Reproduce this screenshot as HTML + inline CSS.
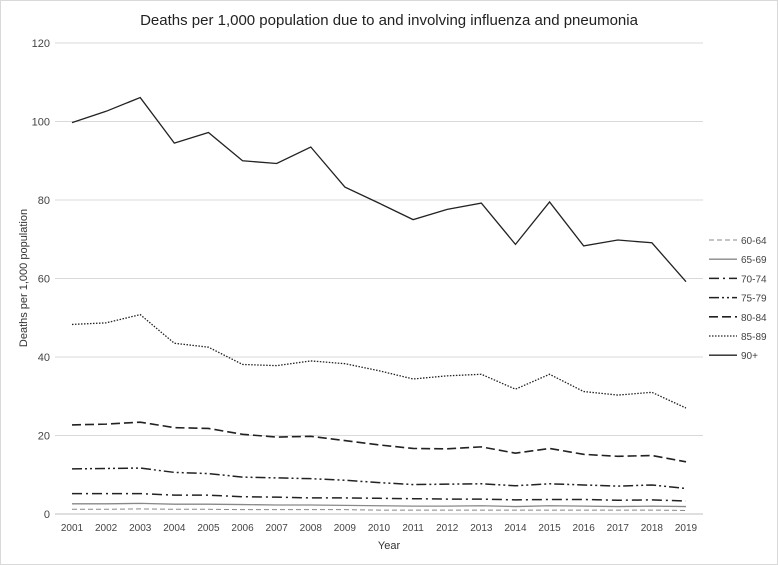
<!DOCTYPE html>
<html><head><meta charset="utf-8"><style>
body{margin:0;background:#fff;font-family:"Liberation Sans",sans-serif}
svg{display:block}
</style></head><body>
<svg id="chart" width="778" height="565">
<rect x="0.5" y="0.5" width="777" height="564" fill="#fff" stroke="#d9d9d9"/>
<text x="389" y="25" text-anchor="middle" font-size="15" fill="#222">Deaths per 1,000 population due to and involving influenza and pneumonia</text>
<text x="389" y="549" text-anchor="middle" font-size="11" fill="#333">Year</text>
<text transform="translate(27,278) rotate(-90)" text-anchor="middle" font-size="11" fill="#333">Deaths per 1,000 population</text>
<g id="grid"></g><g id="series"></g><g id="legend"></g>
</svg>
<script>
const years=["2001","2002","2003","2004","2005","2006","2007","2008","2009","2010","2011","2012","2013","2014","2015","2016","2017","2018","2019"];
const yTicks=[0,20,40,60,80,100,120];
const seriesNames=["60-64","65-69","70-74","75-79","80-84","85-89","90+"];
const s6064=[1.2,1.2,1.3,1.2,1.2,1.1,1.1,1.1,1.1,1.0,1.0,1.0,1.0,1.0,1.0,1.0,1.0,1.0,0.9];
const s6569=[2.6,2.6,2.7,2.5,2.5,2.4,2.3,2.3,2.2,2.1,2.0,2.0,2.1,1.9,2.1,2.0,1.9,2.0,1.9];
const s7074=[5.2,5.2,5.2,4.8,4.8,4.4,4.3,4.1,4.1,4.0,3.9,3.8,3.8,3.6,3.7,3.7,3.5,3.6,3.3];
const s7579=[11.5,11.6,11.7,10.6,10.3,9.4,9.2,9.0,8.6,8.0,7.5,7.6,7.7,7.2,7.7,7.4,7.1,7.4,6.5];
const s8084=[22.7,22.9,23.4,22.0,21.8,20.3,19.6,19.8,18.7,17.6,16.7,16.6,17.1,15.5,16.7,15.2,14.7,14.9,13.3];
const s8589=[48.3,48.7,50.8,43.5,42.5,38.1,37.8,39.0,38.3,36.5,34.4,35.2,35.6,31.8,35.6,31.2,30.3,31.0,27.0];
const s90=[99.7,102.6,106.1,94.5,97.2,90.0,89.3,93.5,83.3,79.2,75.0,77.6,79.2,68.7,79.5,68.3,69.8,69.1,59.2];
const allSeries=[s6064,s6569,s7074,s7579,s8084,s8589,s90];
const styles=[{c:"#888",w:1,d:"5,3"},{c:"#888",w:1.3,d:""},{c:"#222",w:1.5,d:"10,4,2,4"},{c:"#222",w:1.5,d:"10,3,2,3,2,3"},{c:"#222",w:1.6,d:"9,4"},{c:"#222",w:1.3,d:"1.5,1.5"},{c:"#222",w:1.3,d:""}];
const NS="http://www.w3.org/2000/svg";
const x=i=>72+i*(686-72)/(years.length-1);
const y=v=>514-v*(514-43)/120;
function mk(t,a,p){const e=document.createElementNS(NS,t);for(const k in a)e.setAttribute(k,a[k]);p.appendChild(e);return e;}
const grid=document.getElementById('grid');
yTicks.forEach(t=>{
 const l=mk('line',{x1:55,x2:703,y1:y(t),y2:y(t),stroke:t===0?'#bfbfbf':'#d9d9d9','stroke-width':1},grid);
 
 
 const tx=mk('text',{x:50,y:y(t)+4,'text-anchor':'end','font-size':11,fill:'#444'},grid);tx.textContent=t;
 
 
});
years.forEach((yr,i)=>{
 const tx=mk('text',{x:x(i),y:531,'text-anchor':'middle','font-size':10,fill:'#444'},grid);tx.textContent=yr;
 
 
});
const sg=document.getElementById('series'),lg=document.getElementById('legend');
allSeries.forEach((s,k)=>{
 const st=styles[k];
 const p=mk('polyline',{points:s.map((v,i)=>x(i)+','+y(v)).join(' '),fill:'none',stroke:st.c,'stroke-width':st.w,'stroke-dasharray':st.d},sg);
 
 
 const ly=240+k*19.2;
 const ll=mk('line',{x1:709,x2:737,y1:ly,y2:ly,stroke:st.c,'stroke-width':st.w,'stroke-dasharray':st.d},lg);
 
 
 const lt=mk('text',{x:741,y:ly+4,'font-size':10,fill:'#444'},lg);lt.textContent=seriesNames[k];
 
 
});
</script>
</body></html>
